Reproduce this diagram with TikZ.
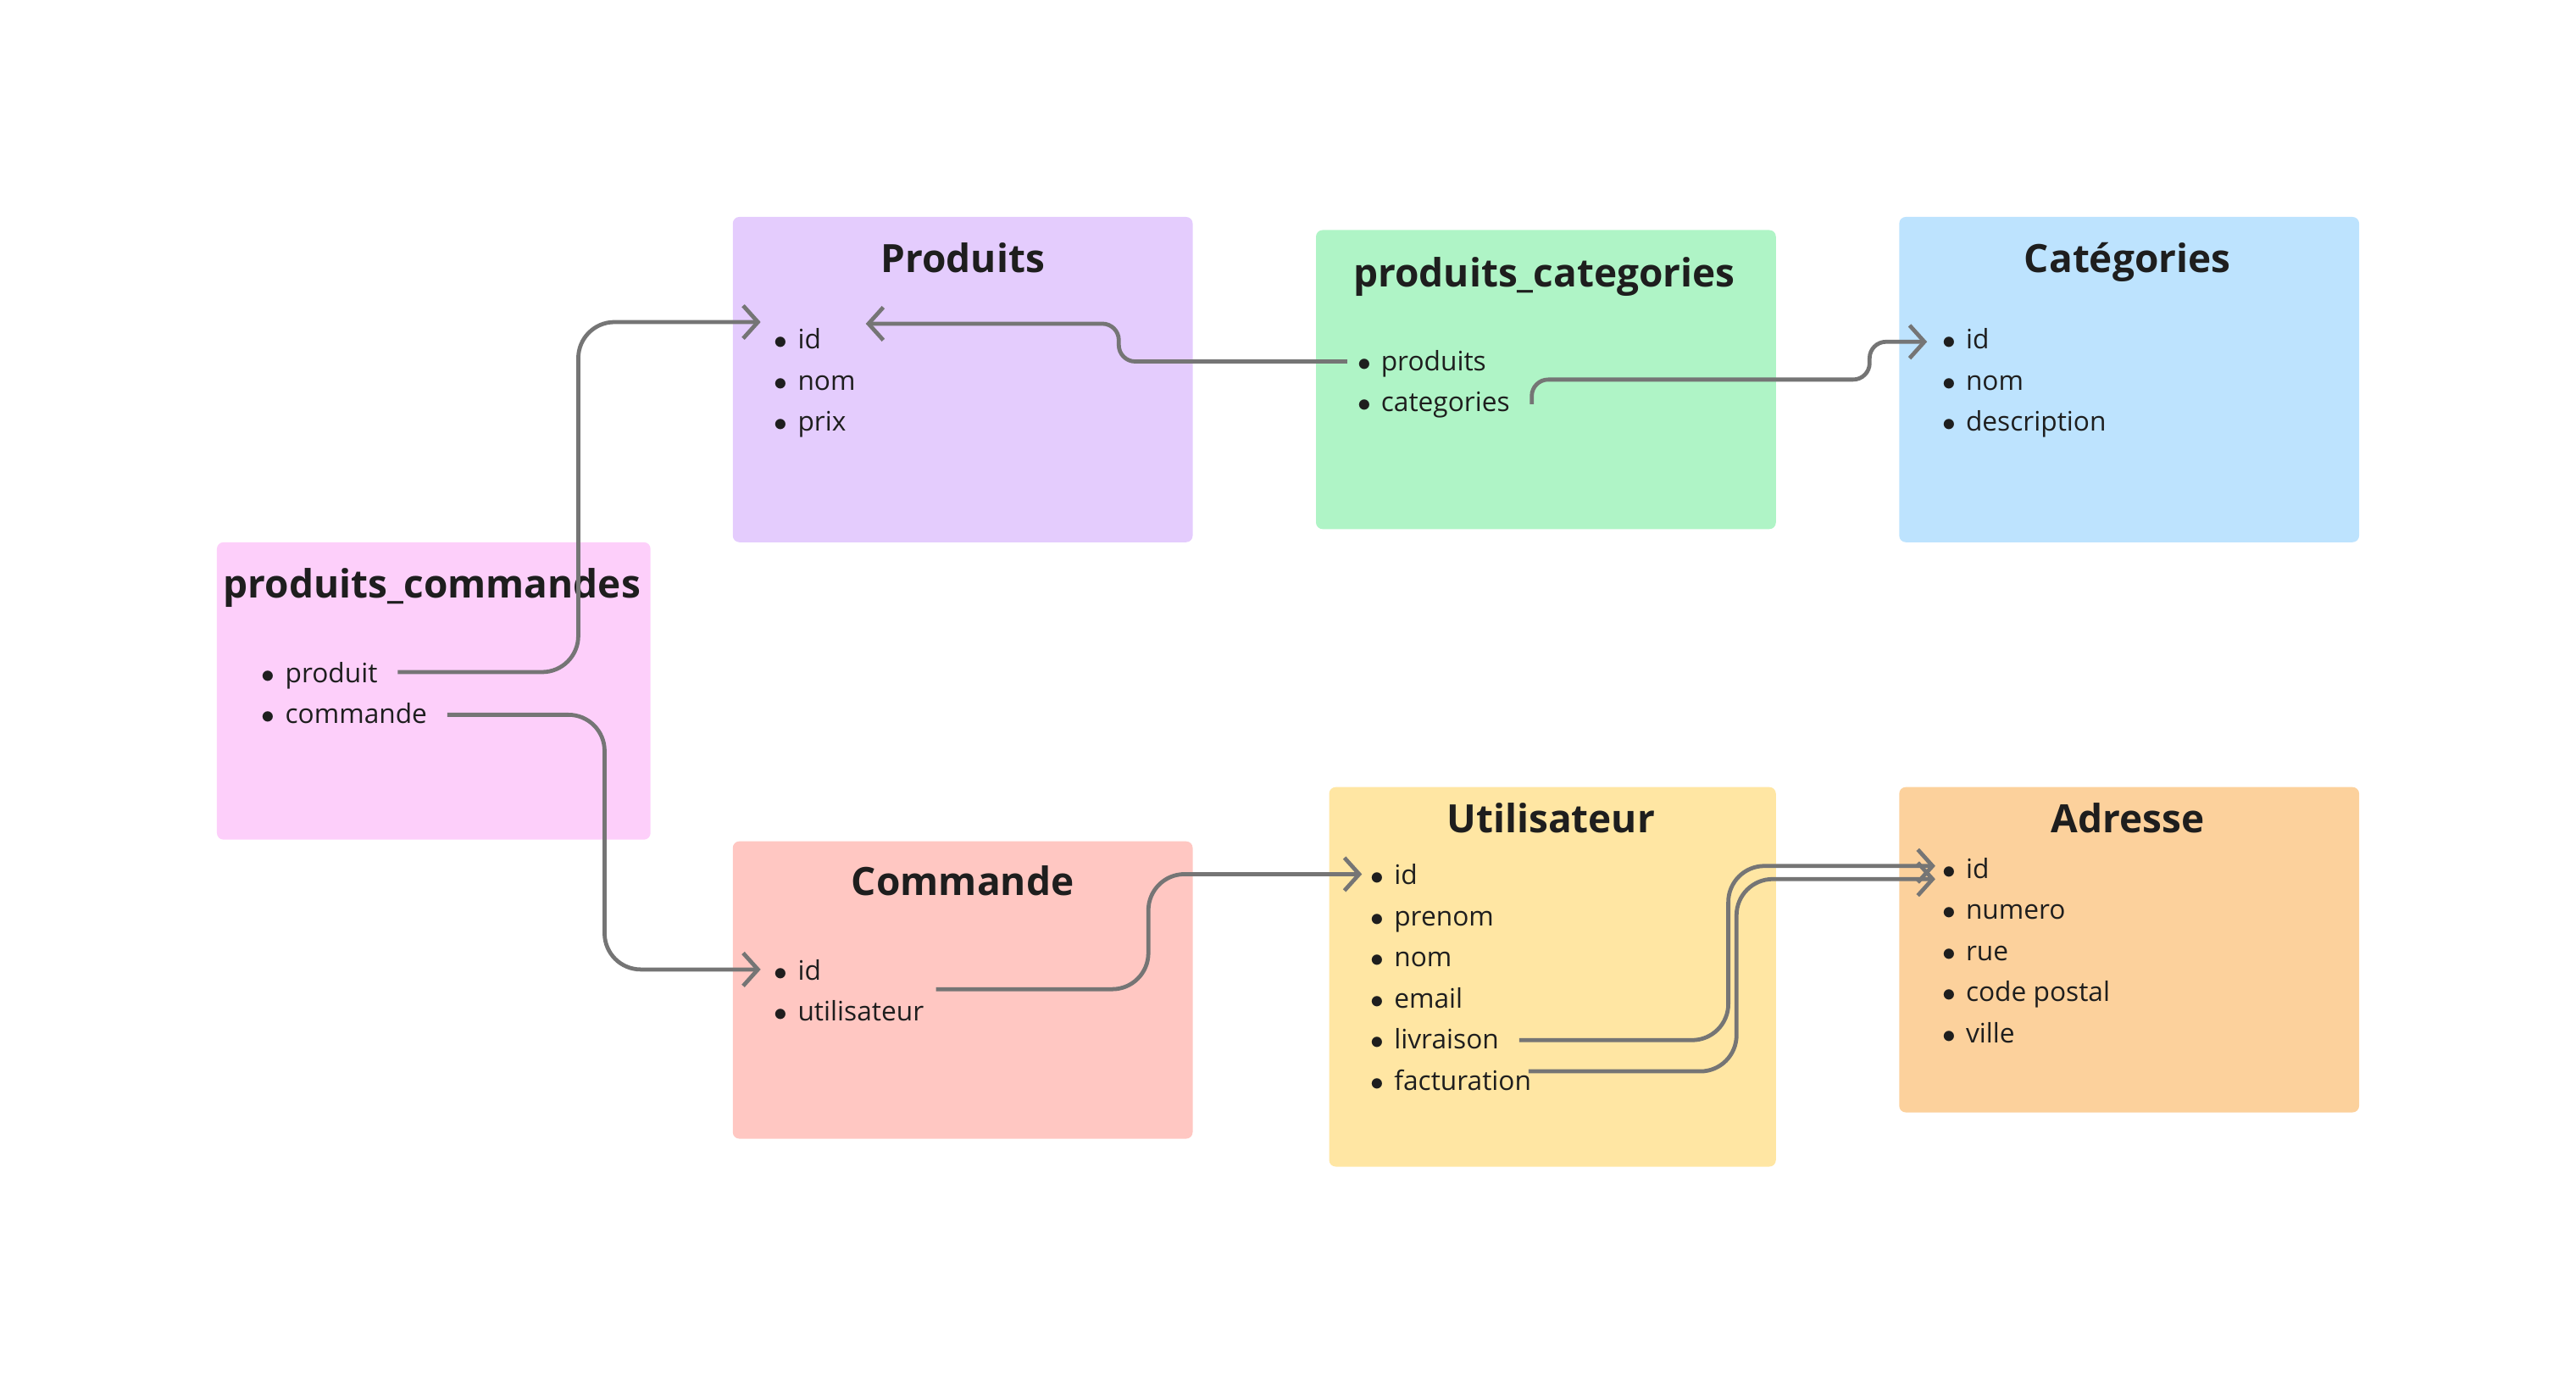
\documentclass[tikz,border=0pt]{standalone}
\usepackage{fontspec}
\setmainfont{Open Sans}
\usetikzlibrary{arrows.meta}
\definecolor{ink}{HTML}{1E1E1E}
\definecolor{wire}{HTML}{757575}
\definecolor{pcpink}{HTML}{FDCFFA}
\definecolor{prviolet}{HTML}{E4CCFD}
\definecolor{pcatgreen}{HTML}{AFF4C6}
\definecolor{catblue}{HTML}{BDE3FE}
\definecolor{cmred}{HTML}{FFC7C2}
\definecolor{utyellow}{HTML}{FFE6A3}
\definecolor{adorange}{HTML}{FCD19C}

\begin{document}
\begin{tikzpicture}[x=0.02cm,y=-0.02cm,
  tbl/.style={rounded corners=0.8mm,inner sep=0,outer sep=0},
  title/.style={font=\bfseries\fontsize{13.5}{16}\selectfont,text=ink,inner sep=0,text height=0.75em,text depth=0.2em},
  fld/.style={anchor=west,inner sep=0,font=\fontsize{9.3}{11}\selectfont,text=ink,text height=0.95em,text depth=0.22em},
  link/.style={draw=wire,line width=1.4pt,rounded corners=0.44cm,-{Straight Barb[length=1.8mm,width=4mm]}},
  slink/.style={link,rounded corners=0.2cm}]
\useasboundingbox (0,0) rectangle (1568,842);

% tables
\node[tbl,fill=pcpink,minimum width=5.28cm,minimum height=3.62cm] (pc) at (264,420.5) {};
\node[tbl,fill=prviolet,minimum width=5.6cm,minimum height=3.96cm] (pr) at (586,231) {};
\node[tbl,fill=pcatgreen,minimum width=5.6cm,minimum height=3.64cm] (pcat) at (941,231) {};
\node[tbl,fill=catblue,minimum width=5.6cm,minimum height=3.96cm] (cat) at (1296,231) {};
\node[tbl,fill=cmred,minimum width=5.6cm,minimum height=3.62cm] (cm) at (586,602.5) {};
\node[tbl,fill=utyellow,minimum width=5.44cm,minimum height=4.62cm] (ut) at (945,594.5) {};
\node[tbl,fill=adorange,minimum width=5.6cm,minimum height=3.96cm] (ad) at (1296,578) {};

% titles
\node[title] (pc-t) at (263,359) {produits\_commandes};
\node[title] (pr-t) at (586,161) {Produits};
\node[title] (pcat-t) at (940,170) {produits\_categories};
\node[title] (cat-t) at (1295,161) {Catégories};
\node[title] (cm-t) at (586,540) {Commande};
\node[title] (ut-t) at (944,502) {Utilisateur};
\node[title] (ad-t) at (1295,502) {Adresse};

% fields
\node[fld] (pc-prod) at (159,409) {$\bullet$\hspace{3.5pt}produit};
\node[fld] (pc-cmd) at (159,434) {$\bullet$\hspace{3.5pt}commande};

\node[fld] (pr-id) at (471,206) {$\bullet$\hspace{3.5pt}id};
\node[fld] (pr-nom) at (471,231) {$\bullet$\hspace{3.5pt}nom};
\node[fld] (pr-prix) at (471,256) {$\bullet$\hspace{3.5pt}prix};

\node[fld] (pcat-prod) at (826,219) {$\bullet$\hspace{3.5pt}produits};
\node[fld] (pcat-cat) at (826,244) {$\bullet$\hspace{3.5pt}categories};

\node[fld] (cat-id) at (1182,206) {$\bullet$\hspace{3.5pt}id};
\node[fld] (cat-nom) at (1182,231) {$\bullet$\hspace{3.5pt}nom};
\node[fld] (cat-desc) at (1182,256) {$\bullet$\hspace{3.5pt}description};

\node[fld] (cm-id) at (471,590) {$\bullet$\hspace{3.5pt}id};
\node[fld] (cm-util) at (471,615) {$\bullet$\hspace{3.5pt}utilisateur};

\node[fld] (ut-id) at (834,532) {$\bullet$\hspace{3.5pt}id};
\node[fld] (ut-prenom) at (834,557) {$\bullet$\hspace{3.5pt}prenom};
\node[fld] (ut-nom) at (834,582) {$\bullet$\hspace{3.5pt}nom};
\node[fld] (ut-email) at (834,607) {$\bullet$\hspace{3.5pt}email};
\node[fld] (ut-liv) at (834,632) {$\bullet$\hspace{3.5pt}livraison};
\node[fld] (ut-fact) at (834,657) {$\bullet$\hspace{3.5pt}facturation};

\node[fld] (ad-id) at (1182,528) {$\bullet$\hspace{3.5pt}id};
\node[fld] (ad-num) at (1182,553) {$\bullet$\hspace{3.5pt}numero};
\node[fld] (ad-rue) at (1182,578) {$\bullet$\hspace{3.5pt}rue};
\node[fld] (ad-cp) at (1182,603) {$\bullet$\hspace{3.5pt}code postal};
\node[fld] (ad-ville) at (1182,628) {$\bullet$\hspace{3.5pt}ville};

% relations
\draw[link] ([shift={(12,0)}]pc-prod.east) -| ([shift={(-119,-10)}]pr-id.west) -- ([shift={(-8,-10)}]pr-id.west);
\draw[link] ([shift={(12,1)}]pc-cmd.east) -| ([shift={(-103,0)}]cm-id.west) -- ([shift={(-8,0)}]cm-id.west);
\draw[slink] ([shift={(-6,1)}]pcat-prod.west) -| ([shift={(210,-9)}]pr-id.west) -- ([shift={(56,-9)}]pr-id.west);
\draw[slink] ([shift={(13,2)}]pcat-cat.east) -- ++(0,-15) -| ([shift={(-44,2)}]cat-id.west) -- ([shift={(-9,2)}]cat-id.west);
\draw[link] ([shift={(7,-13)}]cm-util.east) -| ([shift={(-135,0)}]ut-id.west) -- ([shift={(-5,0)}]ut-id.west);
\draw[link] ([shift={(12,1)}]ut-liv.east) -| ([shift={(-130,-1)}]ad-id.west) -- ([shift={(-4,-1)}]ad-id.west);
\draw[link] ([shift={(-2,-5)}]ut-fact.east) -| ([shift={(-125,7)}]ad-id.west) -- ([shift={(-4,7)}]ad-id.west);
\end{tikzpicture}
\end{document}
